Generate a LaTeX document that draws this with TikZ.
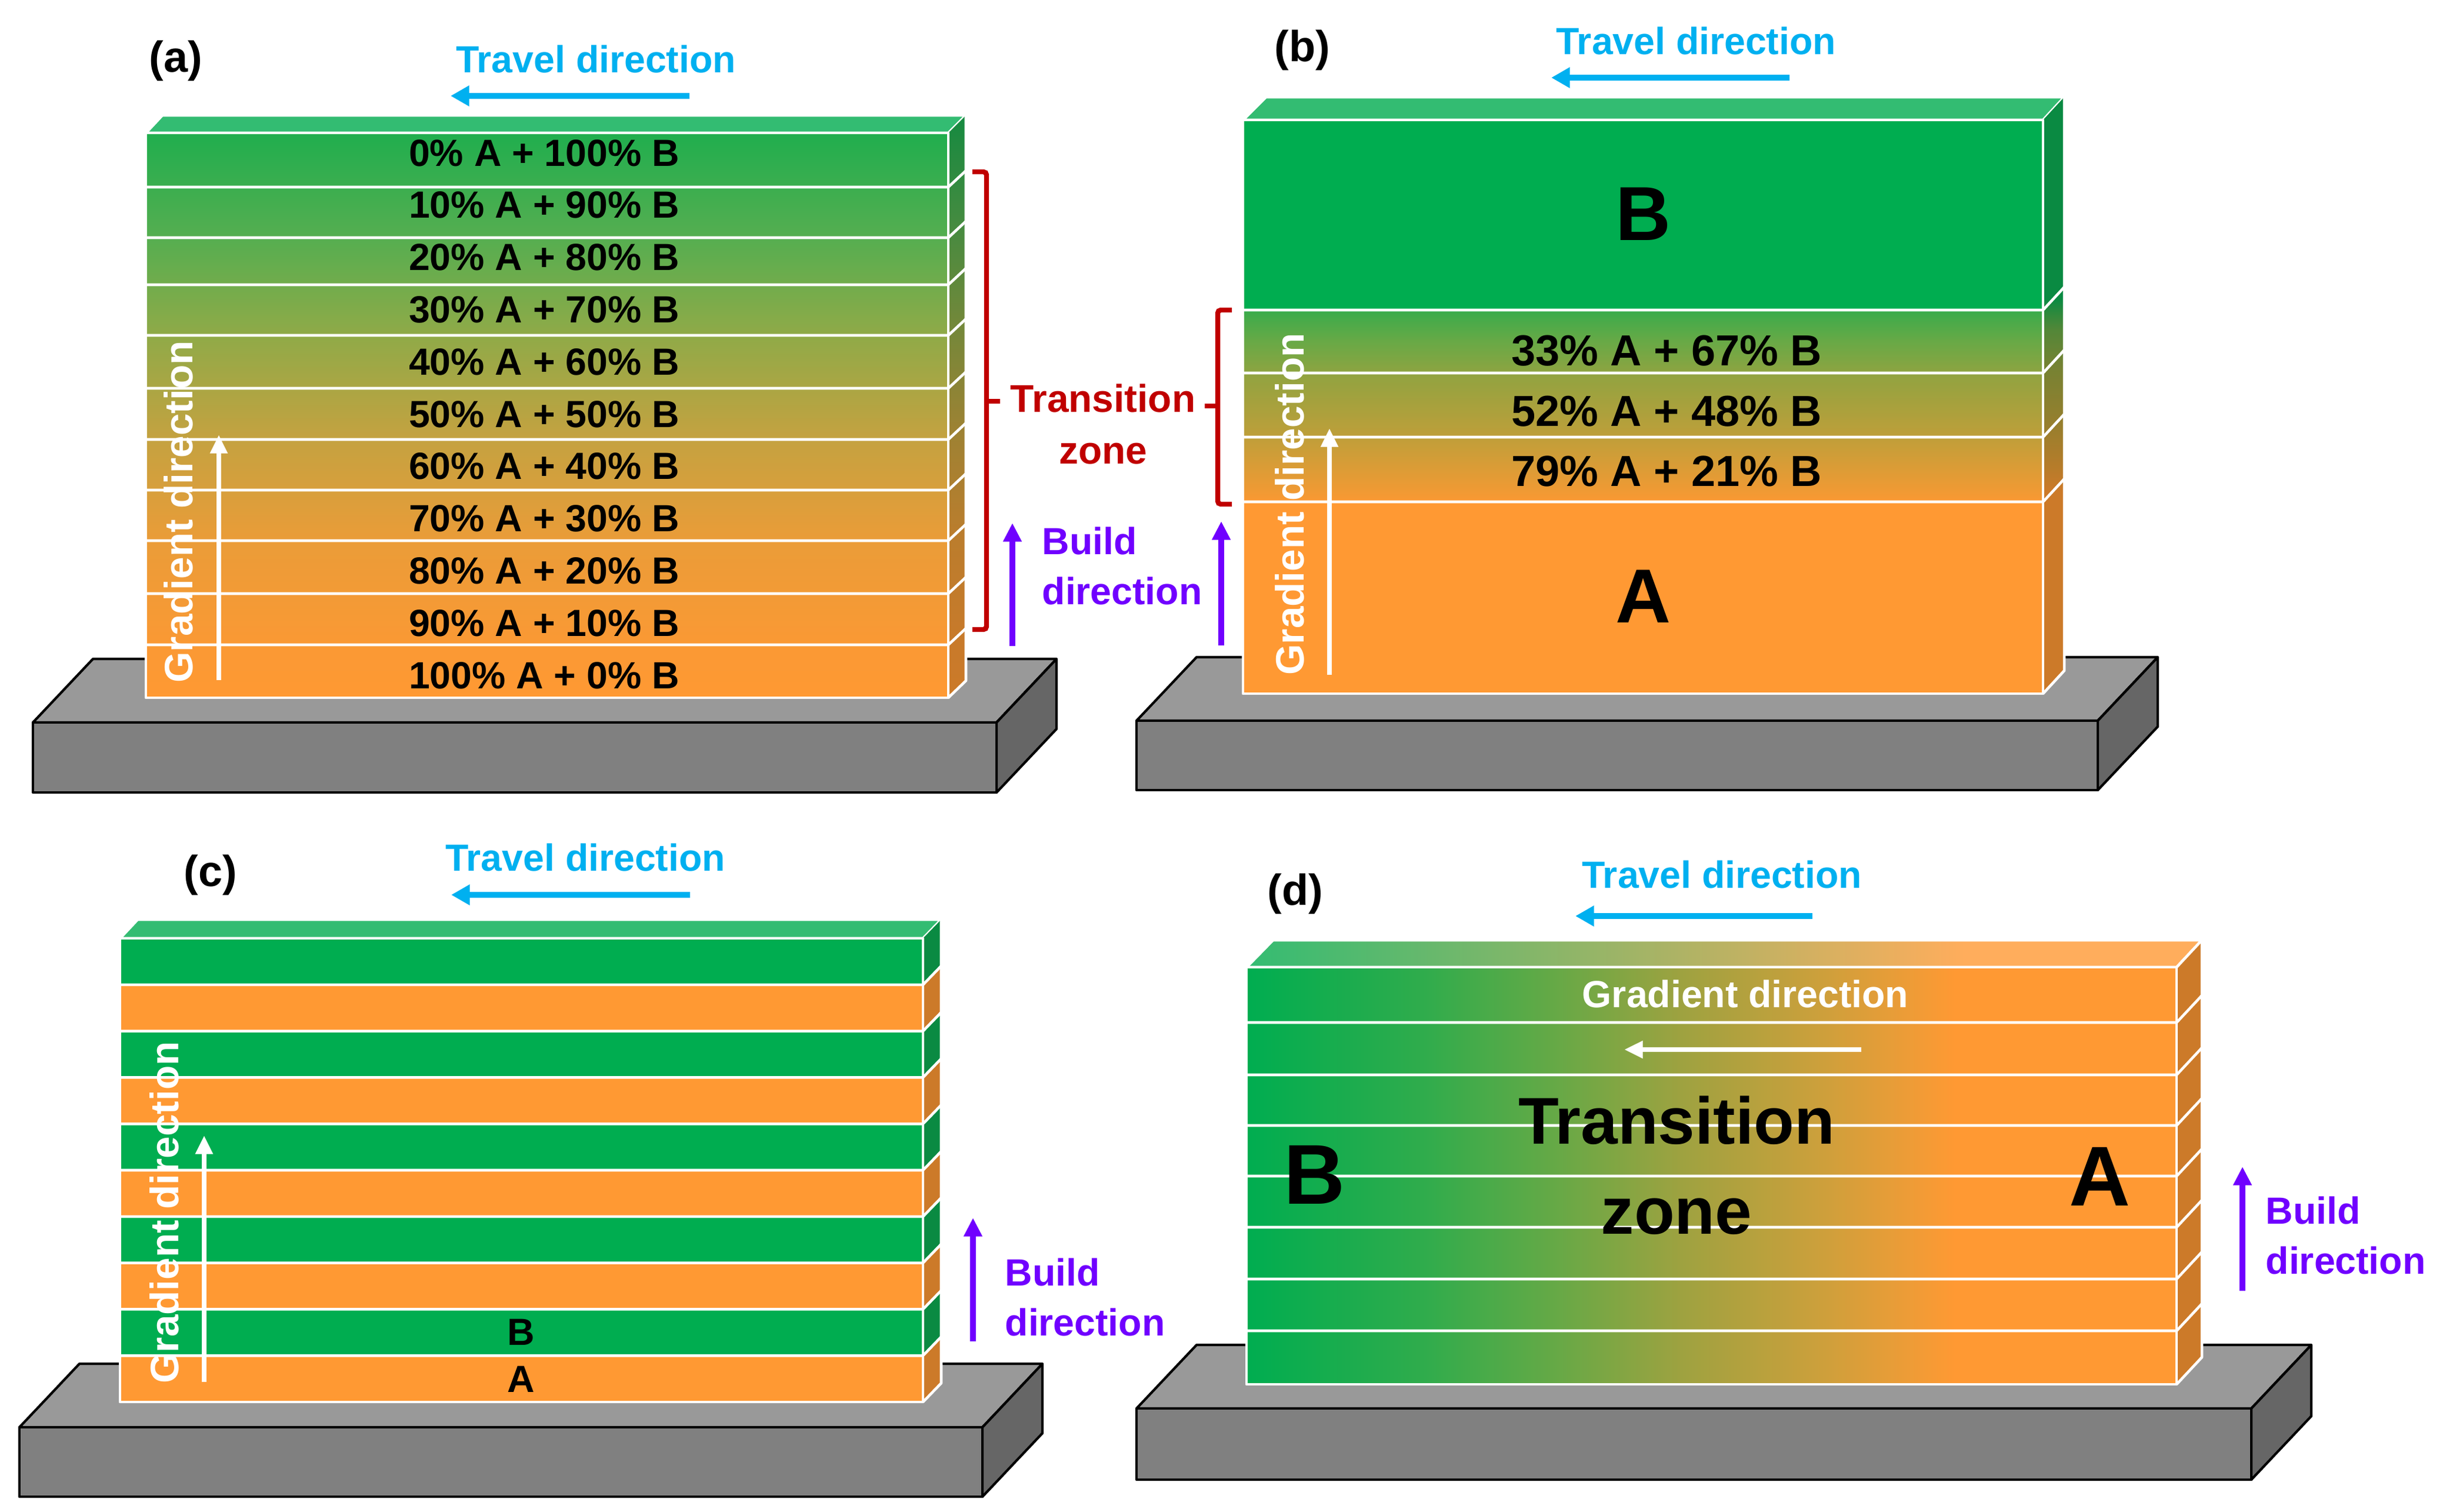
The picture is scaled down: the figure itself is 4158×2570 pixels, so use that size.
\documentclass[tikz,border=0pt]{standalone}
\usepackage{fontspec}
\setmainfont{Liberation Sans}
\usetikzlibrary{arrows.meta}
\definecolor{blockgreen}{HTML}{00AD50}
\definecolor{blockorange}{HTML}{FF9933}
\definecolor{sidegreen}{HTML}{0A8A42}
\definecolor{sideorange}{HTML}{CC7A29}
\definecolor{topgreen}{HTML}{33BC72}
\definecolor{toporange}{HTML}{FFAD5C}
\definecolor{travelblue}{HTML}{00B0F0}
\definecolor{buildpurple}{HTML}{7000FF}
\definecolor{zonered}{HTML}{C00000}
\pgfdeclareverticalshading{tiersfront}{100bp}{rgb(0bp)=(1,.6,.2); rgb(25bp)=(1,.6,.2); rgb(29.8bp)=(.98,.6,.204); rgb(39bp)=(.918,.612,.22); rgb(48bp)=(.769,.635,.251); rgb(57.2bp)=(.561,.667,.282); rgb(65.8bp)=(.333,.682,.314); rgb(75bp)=(.125,.682,.306); rgb(100bp)=(.125,.682,.306)}
\pgfdeclareverticalshading{tiersside}{100bp}{rgb(0bp)=(.8,.478,.161); rgb(25bp)=(.8,.478,.161); rgb(29.8bp)=(.784,.478,.165); rgb(39bp)=(.733,.49,.176); rgb(48bp)=(.616,.51,.2); rgb(57.2bp)=(.447,.533,.227); rgb(65.8bp)=(.267,.545,.251); rgb(75bp)=(.082,.541,.251); rgb(100bp)=(.082,.541,.251)}
\pgfdeclareverticalshading{stackfront}{100bp}{rgb(0bp)=(1,.6,.2); rgb(41.7bp)=(1,.6,.2); rgb(42bp)=(.969,.6,.2); rgb(43.8bp)=(.894,.608,.208); rgb(47.7bp)=(.737,.624,.227); rgb(52.6bp)=(.576,.639,.251); rgb(55.7bp)=(.408,.663,.275); rgb(58.3bp)=(.235,.671,.294); rgb(58.4bp)=(0,.678,.314); rgb(100bp)=(0,.678,.314)}
\pgfdeclareverticalshading{stackside}{100bp}{rgb(0bp)=(.8,.478,.161); rgb(42bp)=(.8,.478,.161); rgb(44bp)=(.714,.486,.165); rgb(47.7bp)=(.588,.498,.18); rgb(52.5bp)=(.459,.51,.2); rgb(55.5bp)=(.325,.529,.22); rgb(56.8bp)=(.19,.537,.235); rgb(58.1bp)=(.039,.541,.259); rgb(100bp)=(.039,.541,.259)}
\pgfdeclarehorizontalshading{wallfront}{100bp}{rgb(0bp)=(0,.678,.314); rgb(25bp)=(0,.678,.314); rgb(34.6bp)=(.188,.675,.298); rgb(41.5bp)=(.396,.663,.275); rgb(48.4bp)=(.62,.635,.251); rgb(55.3bp)=(.788,.627,.235); rgb(60.4bp)=(.925,.612,.216); rgb(63.1bp)=(1,.6,.2); rgb(100bp)=(1,.6,.2)}
\pgfdeclarehorizontalshading{walltop}{100bp}{color(0bp)=(topgreen); color(25bp)=(topgreen); color(62.6bp)=(toporange); color(100bp)=(toporange)}
\tikzset{
    seam/.style={draw=white, line width=1.3pt, line join=round},
    plate/.style={draw=black, line width=1.2pt, line join=round},
    panellabel/.style={font=\fontsize{21}{25}\selectfont\bfseries},
    travellabel/.style={text=travelblue, font=\fontsize{18.3}{22}\selectfont\bfseries},
    travelarrow/.style={draw=travelblue, line width=2.8pt, -{Triangle[length=9pt,width=9.5pt]}},
    buildlabel/.style={text=buildpurple, anchor=west, align=left, inner sep=0pt, font=\fontsize{18.3}{24}\selectfont\bfseries},
    buildarrow/.style={draw=buildpurple, line width=2.6pt, -{Triangle[length=9pt,width=8.5pt]}},
    gradlabel/.style={text=white, font=\fontsize{18.3}{22}\selectfont\bfseries},
    gradarrow/.style={draw=white, line width=2.5pt, -{Triangle[length=9pt,width=8pt]}},
    zonebrace/.style={draw=zonered, line width=2.4pt, rounded corners=1.5pt},
    layerlabel/.style={font=\fontsize{18.3}{22}\selectfont\bfseries},
    biglabel/.style={font=\fontsize{37}{44}\selectfont\bfseries}
}
% xl, xr, y top, y bottom of the front face
\newcommand{\drawbase}[4]{
    \fill[plate, fill=black!40] (#1,#3) -- ++(102,-108) -- (#2+102,#3-108) -- (#2,#3) -- cycle;
    \fill[plate, fill=black!60] (#2,#3) -- ++(102,-108) -- (#2+102,#4-108) -- (#2,#4) -- cycle;
    \fill[plate, fill=black!50] (#1,#3) rectangle (#2,#4);
}
\begin{document}
\begin{tikzpicture}[x=0.01cm,y=-0.01cm]
    \useasboundingbox (0,0) rectangle (4158,2570);

    % (a)
    \drawbase{56}{1694}{1228}{1347}
    \fill[seam, fill=topgreen] (248,226) -- ++(28,-30) -- (1642,196) -- (1612,226) -- cycle;
    \shade[shading=tiersside] (1612,226) -- (1642,196) -- (1642,1157) -- (1612,1186) -- cycle;
    \shade[shading=tiersfront] (248,226) rectangle (1612,1186);
    \draw[seam] (1642,196) -- (1642,1157) -- (1612,1186);
    \draw[seam] (248,226) rectangle (1612,1186);
    \foreach \y in {318,404,484,570,660,747,833,919,1009,1096}
        \draw[seam] (248,\y) -- (1612,\y) -- ++(30,-28);
    \foreach \i [evaluate=\i as \pa using int(10*\i), evaluate=\i as \pb using int(100-10*\i)] in {0,...,10}
        \node[layerlabel] (la\i) at (925,260+88.8*\i) {\pa\% A + \pb\% B};
    \node[panellabel] (labela) at (299,103) {(a)};
    \node[travellabel] (travela) at (1013,101) {Travel direction};
    \coordinate (travelaS) at (1172,163);
    \coordinate (travelaE) at (766,163);
    \draw[travelarrow] (travelaS) -- (travelaE);
    \node[gradlabel, rotate=90, font=\fontsize{19.2}{22}\selectfont\bfseries] (grada) at (303,870) {Gradient direction};
    \coordinate (gradaS) at (372,1156);
    \coordinate (gradaE) at (372,739);
    \draw[gradarrow] (gradaS) -- (gradaE);
    \coordinate (buildaS) at (1721,1098);
    \coordinate (buildaE) at (1721,889);
    \draw[buildarrow] (buildaS) -- (buildaE);
    \node[buildlabel] (builda) at (1771,962) {Build\\direction};

    % (b)
    \drawbase{1932}{3566}{1225}{1343}
    \fill[seam, fill=topgreen] (2113,204) -- ++(39,-39) -- (3509,165) -- (3473,204) -- cycle;
    \shade[shading=stackside] (3473,204) -- (3509,165) -- (3509,1140) -- (3473,1179) -- cycle;
    \shade[shading=stackfront] (2113,204) rectangle (3473,1179);
    \draw[seam] (3509,165) -- (3509,1140) -- (3473,1179);
    \draw[seam] (2113,204) rectangle (3473,1179);
    \foreach \y in {527,634,743,853}
        \draw[seam] (2113,\y) -- (3473,\y) -- ++(36,-39);
    \node[biglabel] (lbB) at (2793,364) {B};
    \node[biglabel] (lbA) at (2793,1014) {A};
    \node[layerlabel, font=\fontsize{21}{25}\selectfont\bfseries] (lb33) at (2833,596) {33\% A + 67\% B};
    \node[layerlabel, font=\fontsize{21}{25}\selectfont\bfseries] (lb52) at (2833,699) {52\% A + 48\% B};
    \node[layerlabel, font=\fontsize{21}{25}\selectfont\bfseries] (lb79) at (2833,801) {79\% A + 21\% B};
    \node[panellabel] (labelb) at (2214,85) {(b)};
    \node[travellabel] (travelb) at (2883,70) {Travel direction};
    \coordinate (travelbS) at (3042,132);
    \coordinate (travelbE) at (2637,132);
    \draw[travelarrow] (travelbS) -- (travelbE);
    \node[gradlabel, rotate=90, font=\fontsize{19.2}{22}\selectfont\bfseries] (gradb) at (2192,857) {Gradient direction};
    \coordinate (gradbS) at (2260,1147);
    \coordinate (gradbE) at (2260,728);
    \draw[gradarrow] (gradbS) -- (gradbE);
    \coordinate (buildbS) at (2076,1097);
    \coordinate (buildbE) at (2076,886);
    \draw[buildarrow] (buildbS) -- (buildbE);

    % transition zone between (a) and (b)
    \node[text=zonered, align=center, font=\fontsize{18.7}{25.3}\selectfont\bfseries] (zone) at (1875,721) {Transition\\zone};
    \coordinate (bracaT) at (1653,292);
    \coordinate (bracaB) at (1653,1070);
    \coordinate (bracaM) at (1677,682);
    \coordinate (bracbT) at (2094,527);
    \coordinate (bracbB) at (2094,857);
    \coordinate (bracbM) at (2070,690);
    \draw[zonebrace] (bracaT) -- ++(24,0) -- ++(0,778) -- (bracaB);
    \draw[zonebrace] (bracaM) -- ++(23,0);
    \draw[zonebrace] (bracbT) -- ++(-24,0) -- ++(0,330) -- (bracbB);
    \draw[zonebrace] (bracbM) -- ++(-22,0);

    % (c)
    \drawbase{33}{1670}{2426}{2544}
    \fill[seam, fill=topgreen] (204,1595) -- ++(30,-32) -- (1600,1563) -- (1569,1595) -- cycle;
    \foreach \i in {0,...,9} {
        \pgfmathsetmacro\yc{1595+78.8*\i}
        \ifodd\i \def\fc{blockorange}\def\sc{sideorange}\else \def\fc{blockgreen}\def\sc{sidegreen}\fi
        \fill[\sc] (1569,\yc) -- ++(31,-32) -- ++(0,78.8) -- ++(-31,32) -- cycle;
        \fill[\fc] (204,\yc) rectangle (1569,\yc+78.8);
    }
    \draw[seam] (1600,1563) -- (1600,2351) -- (1569,2383);
    \draw[seam] (204,1595) rectangle (1569,2383);
    \foreach \i in {1,...,9}
        \draw[seam] (204,1595+78.8*\i) -- (1569,1595+78.8*\i) -- ++(31,-32);
    \node[layerlabel] (lcB) at (886,2264) {B};
    \node[layerlabel] (lcA) at (886,2344) {A};
    \node[panellabel] (labelc) at (358,1487) {(c)};
    \node[travellabel] (travelc) at (995,1457) {Travel direction};
    \coordinate (travelcS) at (1173,1521);
    \coordinate (travelcE) at (767,1521);
    \draw[travelarrow] (travelcS) -- (travelcE);
    \node[gradlabel, rotate=90, font=\fontsize{19.2}{22}\selectfont\bfseries] (gradc) at (279,2061) {Gradient direction};
    \coordinate (gradcS) at (347,2349);
    \coordinate (gradcE) at (347,1930);
    \draw[gradarrow] (gradcS) -- (gradcE);
    \coordinate (buildcS) at (1654,2280);
    \coordinate (buildcE) at (1654,2070);
    \draw[buildarrow] (buildcS) -- (buildcE);
    \node[buildlabel] (buildc) at (1708,2205) {Build\\direction};

    % (d)
    \drawbase{1932}{3827}{2394}{2515}
    \shade[shading=walltop, draw=white, line width=1.3pt] (2119,1644) -- ++(45,-46) -- (3743,1598) -- (3700,1644) -- cycle;
    \fill[sideorange] (3700,1644) -- (3743,1598) -- (3743,2307) -- (3700,2353) -- cycle;
    \shade[shading=wallfront] (2119,1644) rectangle (3700,2353);
    \draw[seam] (3743,1598) -- (3743,2307) -- (3700,2353);
    \draw[seam] (2119,1644) rectangle (3700,2353);
    \foreach \y in {1738,1827,1913,1999,2086,2174,2262}
        \draw[seam] (2119,\y) -- (3700,\y) -- ++(43,-46);
    \draw[seam] (3700,1644) -- ++(43,-46);
    \node[biglabel, font=\fontsize{41}{48}\selectfont\bfseries] (ldB) at (2235,1997) {B};
    \node[biglabel, font=\fontsize{41}{48}\selectfont\bfseries] (ldA) at (3570,2000) {A};
    \node[align=center, font=\fontsize{32}{43.6}\selectfont\bfseries] (zoned) at (2850,1981) {Transition\\zone};
    \node[panellabel] (labeld) at (2202,1519) {(d)};
    \node[travellabel] (traveld) at (2927,1486) {Travel direction};
    \coordinate (traveldS) at (3081,1557);
    \coordinate (traveldE) at (2678,1557);
    \draw[travelarrow] (traveldS) -- (traveldE);
    \node[gradlabel] (gradd) at (2967,1689) {Gradient direction};
    \coordinate (graddS) at (3164,1784);
    \coordinate (graddE) at (2761,1784);
    \draw[gradarrow] (graddS) -- (graddE);
    \coordinate (builddS) at (3812,2194);
    \coordinate (builddE) at (3812,1983);
    \draw[buildarrow] (builddS) -- (builddE);
    \node[buildlabel] (buildd) at (3851,2100) {Build\\direction};
\end{tikzpicture}
\end{document}
